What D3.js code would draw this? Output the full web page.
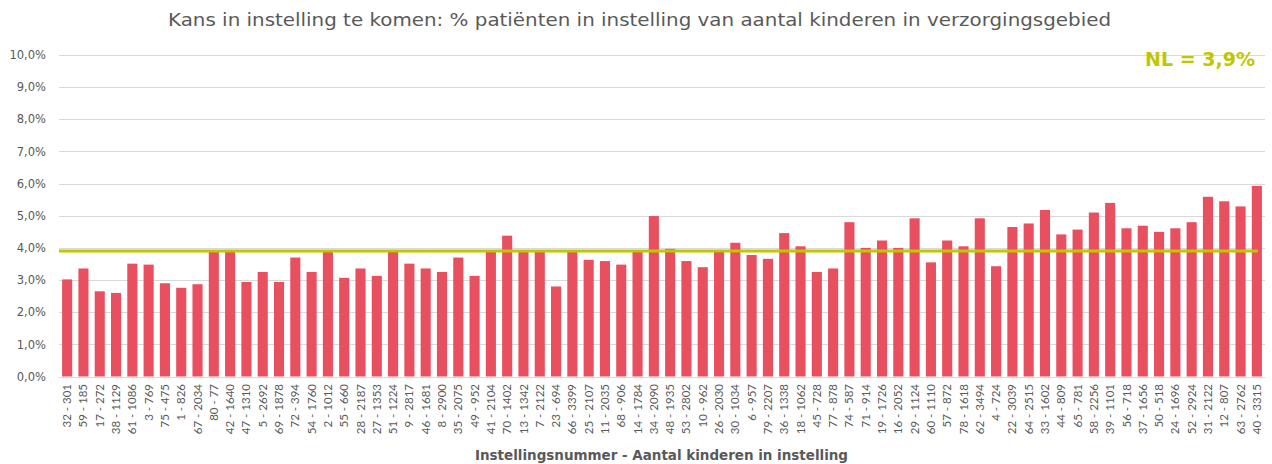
<!DOCTYPE html>
<html>
<head>
<meta charset="utf-8">
<script src="https://cdn.jsdelivr.net/npm/d3@7"></script>
<style>
  body { margin: 0; background: #fff; }
  svg text { font-family: "DejaVu Sans", sans-serif; fill: #595959; }
</style>
</head>
<body>
<div id="chart"></div>
<script>
// instelling - aantal kinderen
const categories = [
  "32 - 301", "59 - 185", "17 - 272", "38 - 1129", "61 - 1086", "3 - 769", "75 - 475", "1 - 826",
  "67 - 2034", "80 - 77", "42 - 1640", "47 - 1310", "5 - 2692", "69 - 1878", "72 - 394", "54 - 1760",
  "2 - 1012", "55 - 660", "28 - 2187", "27 - 1353", "51 - 1224", "9 - 2817", "46 - 1681", "8 - 2900",
  "35 - 2075", "49 - 952", "41 - 2104", "70 - 1402", "13 - 1342", "7 - 2122", "23 - 694", "66 - 3399",
  "25 - 2107", "11 - 2035", "68 - 906", "14 - 1784", "34 - 2090", "48 - 1935", "53 - 2802", "10 - 962",
  "26 - 2030", "30 - 1034", "6 - 957", "79 - 2207", "36 - 1338", "18 - 1062", "45 - 728", "77 - 878",
  "74 - 587", "71 - 914", "19 - 1726", "16 - 2052", "29 - 1124", "60 - 1110", "57 - 872", "78 - 1618",
  "62 - 3494", "4 - 724", "22 - 3039", "64 - 2515", "33 - 1602", "44 - 809", "65 - 781", "58 - 2256",
  "39 - 1101", "56 - 718", "37 - 1656", "50 - 518", "24 - 1696", "52 - 2924", "31 - 2122", "12 - 807",
  "63 - 2762", "40 - 3315"
];

// % patienten in instelling
const values = [
  3.02, 3.36, 2.65, 2.60, 3.51, 3.48, 2.90, 2.76,
  2.87, 3.88, 3.88, 2.94, 3.25, 2.94, 3.70, 3.25,
  3.88, 3.07, 3.36, 3.13, 3.88, 3.51, 3.36, 3.25,
  3.70, 3.13, 3.88, 4.38, 3.88, 3.88, 2.80, 3.88,
  3.63, 3.59, 3.48, 3.88, 4.99, 3.97, 3.59, 3.40,
  3.88, 4.16, 3.78, 3.66, 4.46, 4.05, 3.25, 3.36,
  4.80, 4.00, 4.23, 4.00, 4.92, 3.55, 4.23, 4.05,
  4.92, 3.43, 4.65, 4.76, 5.18, 4.42, 4.57, 5.10,
  5.40, 4.61, 4.69, 4.50, 4.61, 4.80, 5.59, 5.45,
  5.29, 5.93
];

const nlValue = 3.9;
const yTicks = [0, 1, 2, 3, 4, 5, 6, 7, 8, 9, 10];

const w = 1272, h = 464;
const margin = {top: 55, right: 7, bottom: 87, left: 59};

const svg = d3.select("#chart").append("svg")
  .attr("width", w)
  .attr("height", h);

const x = d3.scaleBand()
  .domain(categories)
  .range([margin.left, w - margin.right])
  .paddingInner(0.38)
  .paddingOuter(0.19);

const y = d3.scaleLinear()
  .domain([0, 10])
  .range([h - margin.bottom - 0.5, margin.top]);

const fmt = d => d3.format(".1f")(d).replace(".", ",") + "%";

// gridlines
svg.append("g")
  .selectAll("line")
  .data(yTicks)
  .join("line")
  .attr("x1", margin.left)
  .attr("x2", w - margin.right)
  .attr("y1", d => Math.round(y(d)) + 0.5)
  .attr("y2", d => Math.round(y(d)) + 0.5)
  .attr("stroke", "#d9d9d9")
  .attr("stroke-width", 1);

// y labels
const yAxis = svg.append("g")
  .attr("transform", "translate(46,0)")
  .call(d3.axisLeft(y).tickValues(yTicks).tickFormat(fmt).tickSize(0).tickPadding(0));
yAxis.select(".domain").remove();
yAxis.selectAll("text")
  .attr("font-size", 11.5)
  .style("font-family", "DejaVu Sans, sans-serif")
  .attr("fill", "#595959");

// bars
svg.append("g")
  .selectAll("rect")
  .data(values)
  .join("rect")
  .attr("x", (d, i) => x(categories[i]))
  .attr("width", x.bandwidth())
  .attr("y", d => y(d))
  .attr("height", d => y(0) - y(d))
  .attr("fill", "#e84f5f");

// x labels
const xAxis = svg.append("g")
  .attr("transform", "translate(0," + (h - margin.bottom) + ")")
  .call(d3.axisBottom(x).tickSize(0).tickPadding(0));
xAxis.select(".domain").remove();
xAxis.selectAll("text")
  .attr("font-size", 11.5)
  .style("font-family", "Lato, sans-serif")
  .attr("fill", "#595959")
  .attr("text-anchor", "end")
  .attr("dy", "0.35em")
  .attr("transform", "translate(0,7) rotate(-90)")
  .attr("x", 0)
  .attr("y", 0);

// NL line
svg.append("line")
  .attr("x1", margin.left)
  .attr("x2", x(categories[categories.length - 1]) + x.bandwidth() - 4)
  .attr("y1", y(nlValue))
  .attr("y2", y(nlValue))
  .attr("stroke", "#bfc700")
  .attr("stroke-width", 3);

svg.append("text")
  .attr("x", 1145)
  .attr("y", 66)
  .attr("font-size", 19)
  .attr("font-weight", "bold")
  .attr("textLength", 110)
  .attr("lengthAdjust", "spacingAndGlyphs")
  .style("fill", "#bfc700")
  .text("NL = " + String(nlValue).replace(".", ",") + "%");

// title
svg.append("text")
  .attr("x", 168)
  .attr("y", 26)
  .attr("font-size", 17)
  .attr("textLength", 943)
  .attr("lengthAdjust", "spacingAndGlyphs")
  .text("Kans in instelling te komen: % patiënten in instelling van aantal kinderen in verzorgingsgebied");

// x title
svg.append("text")
  .attr("x", 475)
  .attr("y", 460)
  .attr("font-size", 13.5)
  .attr("font-weight", "bold")
  .attr("textLength", 373)
  .attr("lengthAdjust", "spacingAndGlyphs")
  .text("Instellingsnummer - Aantal kinderen in instelling");
</script>
</body>
</html>
